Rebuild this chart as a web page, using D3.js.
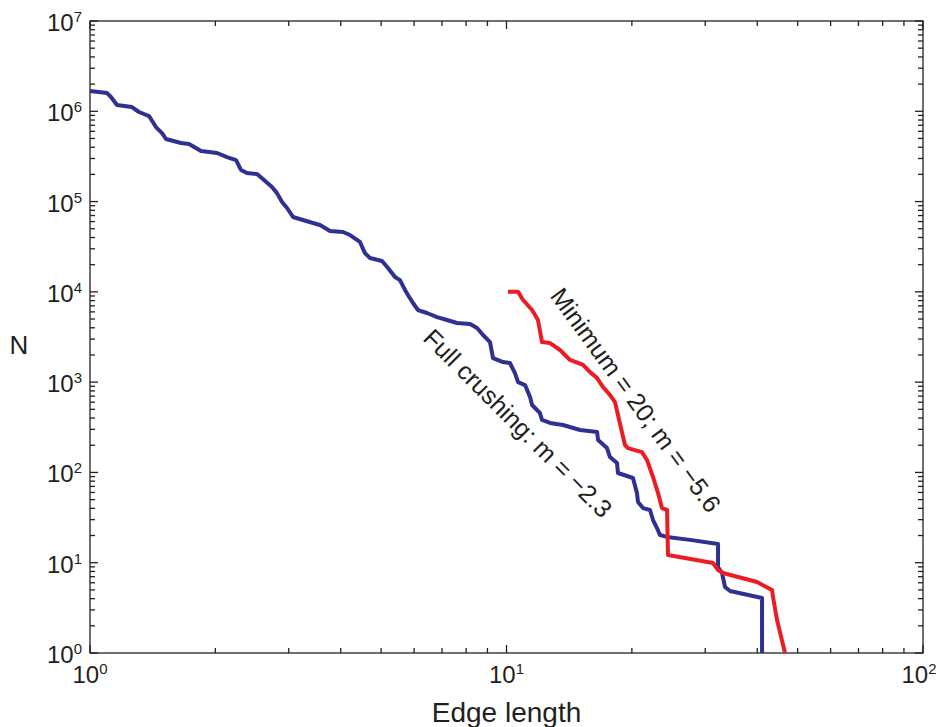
<!DOCTYPE html>
<html><head><meta charset="utf-8">
<script src="https://cdn.jsdelivr.net/npm/d3@7"></script>
<style>body{margin:0;background:#fff}</style>
</head><body>
<script>
// ---- data ----
const xTickValues = [1, 10, 100];
const yTickValues = [1, 10, 100, 1e3, 1e4, 1e5, 1e6, 1e7];
const xLabel = "Edge length";
const yLabel = "N";

const fullX = [1, 1.099, 1.123, 1.161, 1.261, 1.311, 1.386, 1.440, 1.489, 1.522,
  1.654, 1.729, 1.847, 2.018, 2.133, 2.242, 2.304, 2.382, 2.518, 2.617,
  2.735, 2.812, 2.891, 2.972, 3.072, 3.246, 3.430, 3.566, 3.770, 4.050,
  4.210, 4.448, 4.573, 4.701, 5.024, 5.194, 5.399, 5.550, 5.705, 5.800,
  5.963, 6.131, 6.443, 6.811, 7.197, 7.606, 8.176, 8.498, 8.784, 9.129,
  9.282, 9.808, 10.19, 10.48, 10.66, 11.08, 11.39, 11.52, 12.03, 12.17,
  12.72, 13.67, 15.02, 16.50, 16.59, 17.43, 17.72, 18.42, 18.52, 19.47,
  20.12, 20.57, 20.69, 21.27, 22.11, 22.48, 22.98, 23.36, 24.29, 27.57,
  32.20, 32.20, 32.92, 33.47, 34.41, 41.07, 41.07];
const fullN = [1.676e6, 1.592e6, 1.439e6, 1.173e6, 1.114e6, 9.82e5, 8.86e5, 6.69e5, 5.74e5, 4.93e5,
  4.45e5, 4.34e5, 3.63e5, 3.45e5, 3.11e5, 2.88e5, 2.24e5, 2.07e5, 2.02e5, 1.73e5,
  1.45e5, 1.24e5, 9.89e4, 8.49e4, 6.75e4, 6.25e4, 5.79e4, 5.50e4, 4.72e4, 4.60e4,
  4.26e4, 3.57e4, 2.69e4, 2.37e4, 2.20e4, 1.84e4, 1.46e4, 1.35e4, 1.05e4, 9220,
  7520, 6290, 5830, 5260, 4880, 4520, 4410, 3980, 3330, 2780,
  1850, 1670, 1630, 1260, 1000, 929, 684, 558, 455, 381,
  353, 335, 295, 281, 229, 186, 148, 127, 98.6, 91.3,
  86.8, 59.1, 47.0, 40.3, 38.4, 29.7, 24.2, 20.3, 19.3, 17.9,
  16.1, 8.96, 7.69, 5.38, 4.86, 4.06, 1];

const minX = [10.08, 10.66, 10.96, 11.52, 11.90, 12.17, 12.72, 13.44, 14.21, 15.27,
  15.87, 16.50, 17.05, 17.72, 18.22, 18.52, 19.25, 19.57, 21.15, 21.74,
  22.48, 23.11, 23.62, 24.29, 24.42, 31.32, 32.20, 33.10, 39.95, 43.41,
  43.65, 44.62, 46.63];
const minN = [1e4, 1e4, 8120, 6290, 4880, 2780, 2710, 2270, 1760, 1550,
  1290, 1110, 883, 720, 602, 433, 201, 186, 168, 137,
  89.0, 59.1, 40.3, 38.4, 12.2, 9.93, 8.30, 7.69, 6.11, 4.99,
  4.17, 2.32, 1];

const labelFull = "Full crushing: m = \u22122.3";
const labelMin = "Minimum = 20; m = \u22125.6";

// ---- drawing ----
const W = 939, H = 727;
const L = 90, R = 923, T = 21, B = 653;
const ink = "#231f20";
const blue = "#2e3192", red = "#ed1c24";
const font = "'Liberation Sans', Arial, Helvetica, sans-serif";

const svg = d3.select("body").append("svg").attr("width", W).attr("height", H)
  .style("font-family", font);

const x = d3.scaleLog().domain([1, 100]).range([L, R]);
const y = d3.scaleLog().domain([1, 1e7]).range([B, T]);

function minors(majors) {
  const out = [];
  for (let i = 0; i < majors.length - 1; i++)
    for (let k = 2; k <= 9; k++) out.push(majors[i] * k);
  return out;
}
const xMinor = minors(xTickValues), yMinor = minors(yTickValues);

const axG = svg.append("g").attr("stroke", ink).attr("stroke-width", 1.3).attr("fill", "none");
const maj = 8, mnr = 5;
xTickValues.forEach(v => {
  axG.append("line").attr("x1", x(v)).attr("x2", x(v)).attr("y1", B).attr("y2", B - maj);
  axG.append("line").attr("x1", x(v)).attr("x2", x(v)).attr("y1", T).attr("y2", T + maj);
});
xMinor.forEach(v => {
  axG.append("line").attr("x1", x(v)).attr("x2", x(v)).attr("y1", B).attr("y2", B - mnr);
  axG.append("line").attr("x1", x(v)).attr("x2", x(v)).attr("y1", T).attr("y2", T + mnr);
});
yTickValues.forEach(v => {
  axG.append("line").attr("y1", y(v)).attr("y2", y(v)).attr("x1", L).attr("x2", L + maj);
  axG.append("line").attr("y1", y(v)).attr("y2", y(v)).attr("x1", R).attr("x2", R - maj);
});
yMinor.forEach(v => {
  axG.append("line").attr("y1", y(v)).attr("y2", y(v)).attr("x1", L).attr("x2", L + mnr);
  axG.append("line").attr("y1", y(v)).attr("y2", y(v)).attr("x1", R).attr("x2", R - mnr);
});

// data lines
const line = d3.line().x(d => x(d[0])).y(d => y(d[1]));
const fullData = fullX.map((v, i) => [v, fullN[i]]);
const minData = minX.map((v, i) => [v, minN[i]]);
svg.append("path").datum(fullData).attr("d", line).attr("fill", "none")
  .attr("stroke", blue).attr("stroke-width", 4).attr("stroke-linejoin", "round").attr("stroke-linecap", "butt");
svg.append("path").datum(minData).attr("d", line).attr("fill", "none")
  .attr("stroke", red).attr("stroke-width", 4).attr("stroke-linejoin", "round").attr("stroke-linecap", "butt");

// frame
axG.append("rect").attr("x", L).attr("y", T).attr("width", R - L).attr("height", B - T);

// tick labels
const exp = v => Math.round(Math.log10(v));
yTickValues.forEach(v => {
  const t = svg.append("text").attr("x", L - 8).attr("y", y(v) + 10)
    .attr("text-anchor", "end").attr("fill", ink).style("font-size", "24px");
  t.append("tspan").text("10");
  t.append("tspan").attr("dy", -9).style("font-size", "15px").text(exp(v));
});
xTickValues.forEach((v, i) => {
  const last = i === xTickValues.length - 1;
  const t = svg.append("text").attr("x", last ? x(v) - 4 : x(v)).attr("y", B + 30)
    .attr("text-anchor", "middle").attr("fill", ink).style("font-size", "24px");
  t.append("tspan").text("10");
  t.append("tspan").attr("dy", -9).style("font-size", "15px").text(exp(v));
});

// axis labels
svg.append("text").attr("x", (L + R) / 2).attr("y", 722).attr("text-anchor", "middle")
  .attr("fill", ink).style("font-size", "28px").text(xLabel);
svg.append("text").attr("x", 19).attr("y", 345).attr("text-anchor", "middle")
  .attr("dominant-baseline", "central")
  .attr("fill", ink).style("font-size", "26px").text(yLabel);

// annotations
svg.append("text").attr("transform", "translate(518,423) rotate(45)")
  .attr("text-anchor", "middle").attr("dominant-baseline", "central")
  .attr("fill", ink).style("font-size", "25px").text(labelFull);
svg.append("text").attr("transform", "translate(636,400) rotate(54)")
  .attr("text-anchor", "middle").attr("dominant-baseline", "central")
  .attr("fill", ink).style("font-size", "25px").text(labelMin);
</script>
</body></html>
